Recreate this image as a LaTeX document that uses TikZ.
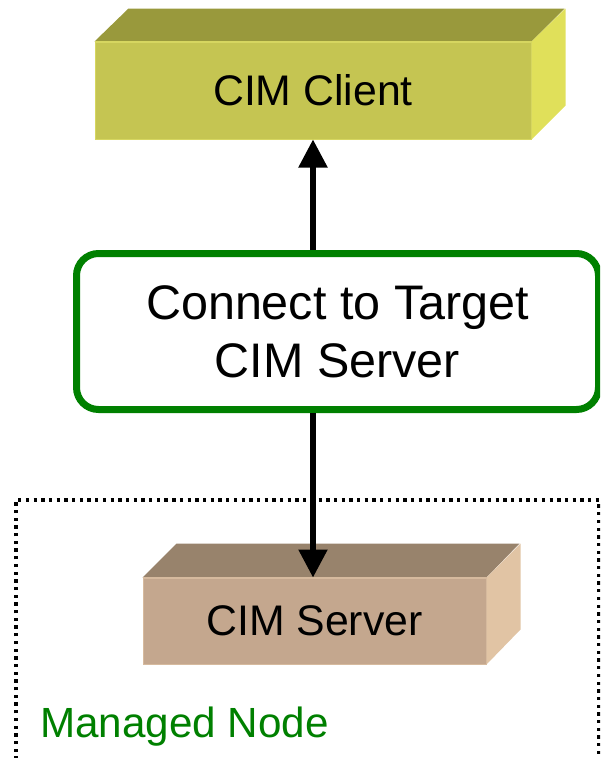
\documentclass[tikz,border=0pt]{standalone}
\usepackage{fontspec}
\setmainfont{Liberation Sans}
\usetikzlibrary{arrows.meta}

% face colours of the two blocks
\definecolor{clientfront}{RGB}{197,197,82}
\definecolor{clienttop}{RGB}{153,153,60}
\definecolor{clientside}{RGB}{224,224,90}
\definecolor{clientedge}{RGB}{214,214,96}
\definecolor{serverfront}{RGB}{196,167,142}
\definecolor{servertop}{RGB}{152,131,108}
\definecolor{serverside}{RGB}{225,196,164}
\definecolor{serveredge}{RGB}{214,186,158}
\definecolor{nodegreen}{RGB}{0,128,0}

\tikzset{
  blockface/.style={inner sep=0pt, font=\fontsize{42.8}{50}\selectfont, text=black},
  flowbox/.style={draw=nodegreen, line width=7pt, rounded corners=22pt, fill=white,
                  inner sep=0pt, align=center, font=\fontsize{48.5}{58}\selectfont},
  link/.style={line width=5.3pt, -{Triangle[length=28pt,width=28pt]}},
  nodeframe/.style={line width=3.3pt, dash pattern=on 3.3pt off 4.4pt},
}

\begin{document}
\begin{tikzpicture}[x=1pt,y=-1pt]
  \path[use as bounding box, clip] (0,0) rectangle (600,758);

  % managed node frame (runs past the lower edge)
  \draw[nodeframe] (16,775) -- (16,500) -- (599,500) -- (599,775);
  \node[anchor=base west, inner sep=0pt, text=nodegreen,
        font=\fontsize{42.2}{48}\selectfont] (mnlabel) at (40,737) {Managed Node};

  % CIM client block
  \node[blockface, minimum width=436pt, minimum height=97pt,
        fill=clientfront, draw=clientedge, line width=1pt] (client) at (313,90.5) {CIM Client};
  \fill[clienttop] (client.north west) -- ++(34,-33) -- ++(436,0) -- (client.north east) -- cycle;
  \fill[clientside] (client.north east) -- ++(34,-33) -- ++(0,97) -- (client.south east) -- cycle;
  \draw[clientedge, line width=1pt] (client.north west) -- (client.north east) -- (client.south east);

  % CIM server block
  \node[blockface, minimum width=343pt, minimum height=86pt,
        fill=serverfront, draw=serveredge, line width=1pt] (server) at (314.5,621) {CIM Server};
  \fill[servertop] (server.north west) -- ++(34,-34) -- ++(343,0) -- (server.north east) -- cycle;
  \fill[serverside] (server.north east) -- ++(34,-34) -- ++(0,86) -- (server.south east) -- cycle;
  \draw[serveredge, line width=1pt] (server.north west) -- (server.north east) -- (server.south east);

  % operation box
  \node[flowbox, minimum width=522pt, minimum height=156pt] (connect) at (337.5,331.5)
        {Connect to Target\\CIM Server};

  % connectors
  \draw[link] (client.south |- connect.north) -- (client.south);
  \draw[link] (client.south |- connect.south) -- (client.south |- server.north);
\end{tikzpicture}
\end{document}
